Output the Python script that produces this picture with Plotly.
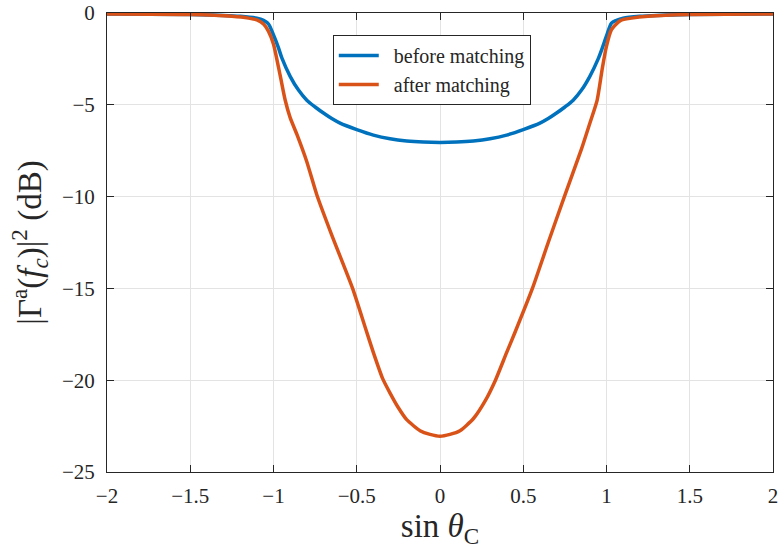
import plotly.graph_objects as go

# sin(theta_C) sample positions and |Gamma^a(f_c)|^2 in dB
x_before = [-2.0, -1.5, -1.3, -1.2, -1.1, -1.06, -1.03, -1.0, -0.97, -0.95, -0.9, -0.85, -0.8, -0.75,
            -0.7, -0.65, -0.6, -0.5, -0.4, -0.3, -0.2, -0.1, 0.0,
            0.1, 0.2, 0.3, 0.4, 0.5, 0.6, 0.65, 0.7, 0.75, 0.8, 0.85, 0.9, 0.95, 0.975, 1.0, 1.03, 1.06,
            1.1, 1.2, 1.3, 1.5, 2.0]
y_before = [-0.05, -0.08, -0.13, -0.18, -0.28, -0.4, -0.6, -1.2, -1.9, -2.45, -3.45, -4.2, -4.75, -5.12,
            -5.45, -5.75, -6.0, -6.35, -6.65, -6.85, -6.97, -7.03, -7.05,
            -7.03, -6.97, -6.85, -6.65, -6.35, -6.0, -5.75, -5.45, -5.12, -4.75, -4.2, -3.45, -2.5, -1.9, -1.25, -0.55, -0.4,
            -0.28, -0.18, -0.13, -0.08, -0.05]

x_after = [-2.0, -1.5, -1.25, -1.15, -1.1, -1.06, -1.03, -1.0, -0.96, -0.93, -0.9, -0.86, -0.8,
           -0.74, -0.65, -0.525, -0.45, -0.4, -0.345, -0.3, -0.25, -0.2, -0.12, -0.06, 0.0,
           0.06, 0.12, 0.2, 0.273, 0.333, 0.4, 0.45, 0.555, 0.65, 0.747, 0.85, 0.9, 0.944, 0.975, 1.0,
           1.03, 1.085, 1.15, 1.25, 1.5, 2.0]
y_after = [-0.05, -0.08, -0.18, -0.28, -0.38, -0.6, -1.0, -1.7, -3.4, -4.74, -5.7, -6.6, -8.1,
           -9.9, -12.1, -15.0, -17.1, -18.5, -19.9, -20.7, -21.5, -22.15, -22.75, -22.95, -23.05,
           -22.95, -22.75, -22.1, -21.1, -20.0, -18.5, -17.4, -15.0, -12.5, -10.0, -7.4, -6.0, -4.74, -3.0, -1.8,
           -0.9, -0.4, -0.28, -0.18, -0.08, -0.05]

x_ticks = [-2, -1.5, -1, -0.5, 0, 0.5, 1, 1.5, 2]
y_ticks = [-25, -20, -15, -10, -5, 0]

SERIF = "Liberation Serif, Times New Roman, serif"
INK = "#262626"

fig = go.Figure()
fig.add_trace(go.Scatter(x=x_before, y=y_before, mode="lines", name="\u2002before matching",
                         line=dict(color="#0072BD", width=3.5, shape="spline", smoothing=0.8)))
fig.add_trace(go.Scatter(x=x_after, y=y_after, mode="lines", name="\u2002after matching",
                         line=dict(color="#D95319", width=3.5, shape="spline", smoothing=0.6)))

axis_common = dict(showline=True, linecolor=INK, linewidth=1, mirror="ticks",
                   ticks="inside", ticklen=7, tickcolor=INK, automargin=False,
                   showgrid=True, gridcolor="#e3e3e3", gridwidth=1, zeroline=False,
                   tickfont=dict(family=SERIF, size=21, color=INK))

fig.update_xaxes(range=[-2, 2], tickvals=x_ticks, ticklabelstandoff=5,
                 title=dict(text="sin <i>θ</i><sub>C</sub>", font=dict(family=SERIF, size=33, color=INK),
                            standoff=2),
                 **axis_common)
fig.update_yaxes(range=[-25, 0], tickvals=y_ticks, ticklabelstandoff=7,
                 title=dict(text="|Γ<sup>a</sup>(<i>f</i><sub><i>c</i></sub>)|<sup>2</sup> (dB)",
                            font=dict(family=SERIF, size=33, color=INK), standoff=10),
                 **axis_common)

fig.update_layout(
    width=782, height=550,
    margin=dict(l=107, r=9, t=13, b=78),
    plot_bgcolor="white", paper_bgcolor="white",
    showlegend=True,
    legend=dict(x=0.339, y=0.952, xanchor="left", yanchor="top",
                bgcolor="white", bordercolor=INK, borderwidth=1,
                font=dict(family=SERIF, size=20, color=INK),
                tracegroupgap=0, itemwidth=40),
)

# remove the browser's default 8 px body margin so the figure sits at the page origin
fig.write_html("out.html", config={"displayModeBar": False},
               post_script="document.body.style.margin='0';document.body.style.overflow='hidden';")
